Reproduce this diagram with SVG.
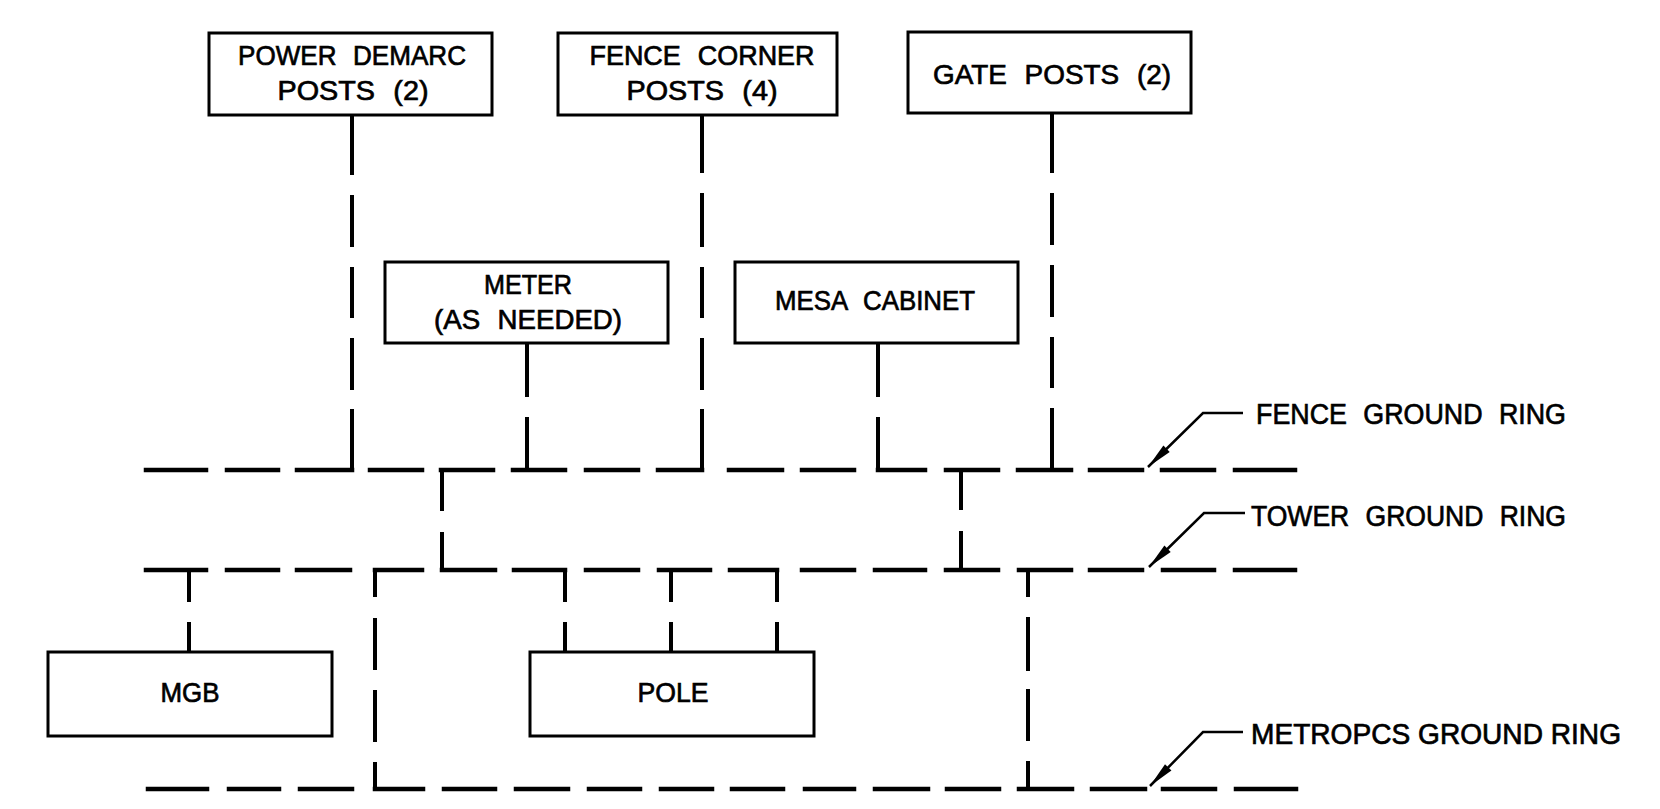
<svg xmlns="http://www.w3.org/2000/svg" width="1660" height="809" viewBox="0 0 1660 809">
<style>
.box{fill:#fff;stroke:#000;stroke-width:3}
.lbl{font-family:"Liberation Sans Narrow","Liberation Sans",Arial,sans-serif;font-size:28px;fill:#000;stroke:#000;stroke-width:0.7;text-anchor:middle;word-spacing:10px}
.rl{font-family:"Liberation Sans Narrow","Liberation Sans",Arial,sans-serif;font-size:30px;fill:#000;stroke:#000;stroke-width:0.7;word-spacing:10px}
.ring{fill:none;stroke:#000;stroke-width:4.5;stroke-linecap:square}
.conn{fill:none;stroke:#000;stroke-width:4;stroke-linecap:butt}
.lead{fill:none;stroke:#000;stroke-width:2.5}
</style>
<defs>
<marker id="ah" markerUnits="userSpaceOnUse" viewBox="-28 -6 30 12" markerWidth="30" markerHeight="12" refX="0" refY="0" orient="auto">
<path d="M0 0 L-26 -4.5 L-26 4.5 Z" fill="#000"/>
</marker>
</defs>
<rect width="1660" height="809" fill="#fff"/>

<g id="connectors">
<!-- fence ground ring -->
<path class="ring" d="M146 470H206M227 470H278M297 470H352M370 470H422M441 470H493M513 470H565M586 470H638M658 470H702M729 470H782M802 470H854M878 470H925M946 470H998M1018 470H1071M1090 470H1142M1162 470H1214M1235 470H1295"/>
<!-- tower ground ring -->
<path class="ring" d="M146 570H206M227 570H278M297 570H350M375 570H422M442 570H495M514 570H565M586 570H638M659 570H710M730 570H777M802 570H854M875 570H925M946 570H998M1019 570H1071M1090 570H1142M1163 570H1214M1235 570H1295"/>
<!-- metropcs ground ring -->
<path class="ring" d="M148 789H207M229 789H279M300 789H352M375 789H423M444 789H495M516 789H568M589 789H640M661 789H712M732 789H783M805 789H854M875 789H928M947 789H999M1019 789H1072M1092 789H1145M1163 789H1215M1236 789H1296"/>
<!-- posts to fence ring -->
<path class="conn" d="M352 115V175M352 195V247M352 267V318M352 338V390M352 409V472"/>
<path class="conn" d="M702 115V173M702 193V247M702 267V318M702 338V390M702 409V472"/>
<path class="conn" d="M1052 113V173M1052 193V245M1052 265V317M1052 337V388M1052 408V472"/>
<path class="conn" d="M527 343V397M527 417V472"/>
<path class="conn" d="M878 343V397M878 417V472"/>
<!-- fence to tower -->
<path class="conn" d="M442 468V511M442 532V572"/>
<path class="conn" d="M961 468V510M961 531V572"/>
<!-- tower to equipment -->
<path class="conn" d="M189 568V602M189 622V652"/>
<path class="conn" d="M565 568V602M565 622V652"/>
<path class="conn" d="M671 568V602M671 622V652"/>
<path class="conn" d="M777 568V602M777 622V652"/>
<!-- tower to metropcs -->
<path class="conn" d="M375 568V597M375 618V670M375 690V742M375 762V791"/>
<path class="conn" d="M1028 568V597M1028 617V671M1028 689V741M1028 761V791"/>
<!-- leaders -->
<path class="lead" d="M1243 413H1203L1148 467" marker-end="url(#ah)"/>
<path class="lead" d="M1245 513H1204L1149 567" marker-end="url(#ah)"/>
<path class="lead" d="M1243 732H1203L1150 786" marker-end="url(#ah)"/>
</g>

<g id="power-demarc">
<rect class="box" x="209" y="33" width="283" height="82"/>
<text class="lbl" x="352" y="65" textLength="228" lengthAdjust="spacingAndGlyphs">POWER DEMARC</text>
<text class="lbl" x="353" y="100" textLength="151" lengthAdjust="spacingAndGlyphs">POSTS (2)</text>
</g>
<g id="fence-corner">
<rect class="box" x="558" y="33" width="279" height="82"/>
<text class="lbl" x="702" y="65" textLength="225" lengthAdjust="spacingAndGlyphs">FENCE CORNER</text>
<text class="lbl" x="702" y="100" textLength="151" lengthAdjust="spacingAndGlyphs">POSTS (4)</text>
</g>
<g id="gate-posts">
<rect class="box" x="908" y="32" width="283" height="81"/>
<text class="lbl" x="1052" y="84" textLength="238" lengthAdjust="spacingAndGlyphs">GATE POSTS (2)</text>
</g>
<g id="meter">
<rect class="box" x="385" y="262" width="283" height="81"/>
<text class="lbl" x="528" y="294" textLength="88" lengthAdjust="spacingAndGlyphs">METER</text>
<text class="lbl" x="528" y="329" textLength="188" lengthAdjust="spacingAndGlyphs">(AS NEEDED)</text>
</g>
<g id="mesa-cabinet">
<rect class="box" x="735" y="262" width="283" height="81"/>
<text class="lbl" x="875" y="310" textLength="200" lengthAdjust="spacingAndGlyphs">MESA CABINET</text>
</g>
<g id="mgb">
<rect class="box" x="48" y="652" width="284" height="84"/>
<text class="lbl" x="190" y="702" textLength="59" lengthAdjust="spacingAndGlyphs">MGB</text>
</g>
<g id="pole">
<rect class="box" x="530" y="652" width="284" height="84"/>
<text class="lbl" x="673" y="702" textLength="71" lengthAdjust="spacingAndGlyphs">POLE</text>
</g>
<g id="ring-labels">
<text class="rl" x="1256" y="424" textLength="310" lengthAdjust="spacingAndGlyphs">FENCE GROUND RING</text>
<text class="rl" x="1251" y="526" textLength="315" lengthAdjust="spacingAndGlyphs">TOWER GROUND RING</text>
<text class="rl" x="1251" y="744" textLength="370" lengthAdjust="spacingAndGlyphs" style="word-spacing:0;font-size:29px">METROPCS GROUND RING</text>
</g>
</svg>
